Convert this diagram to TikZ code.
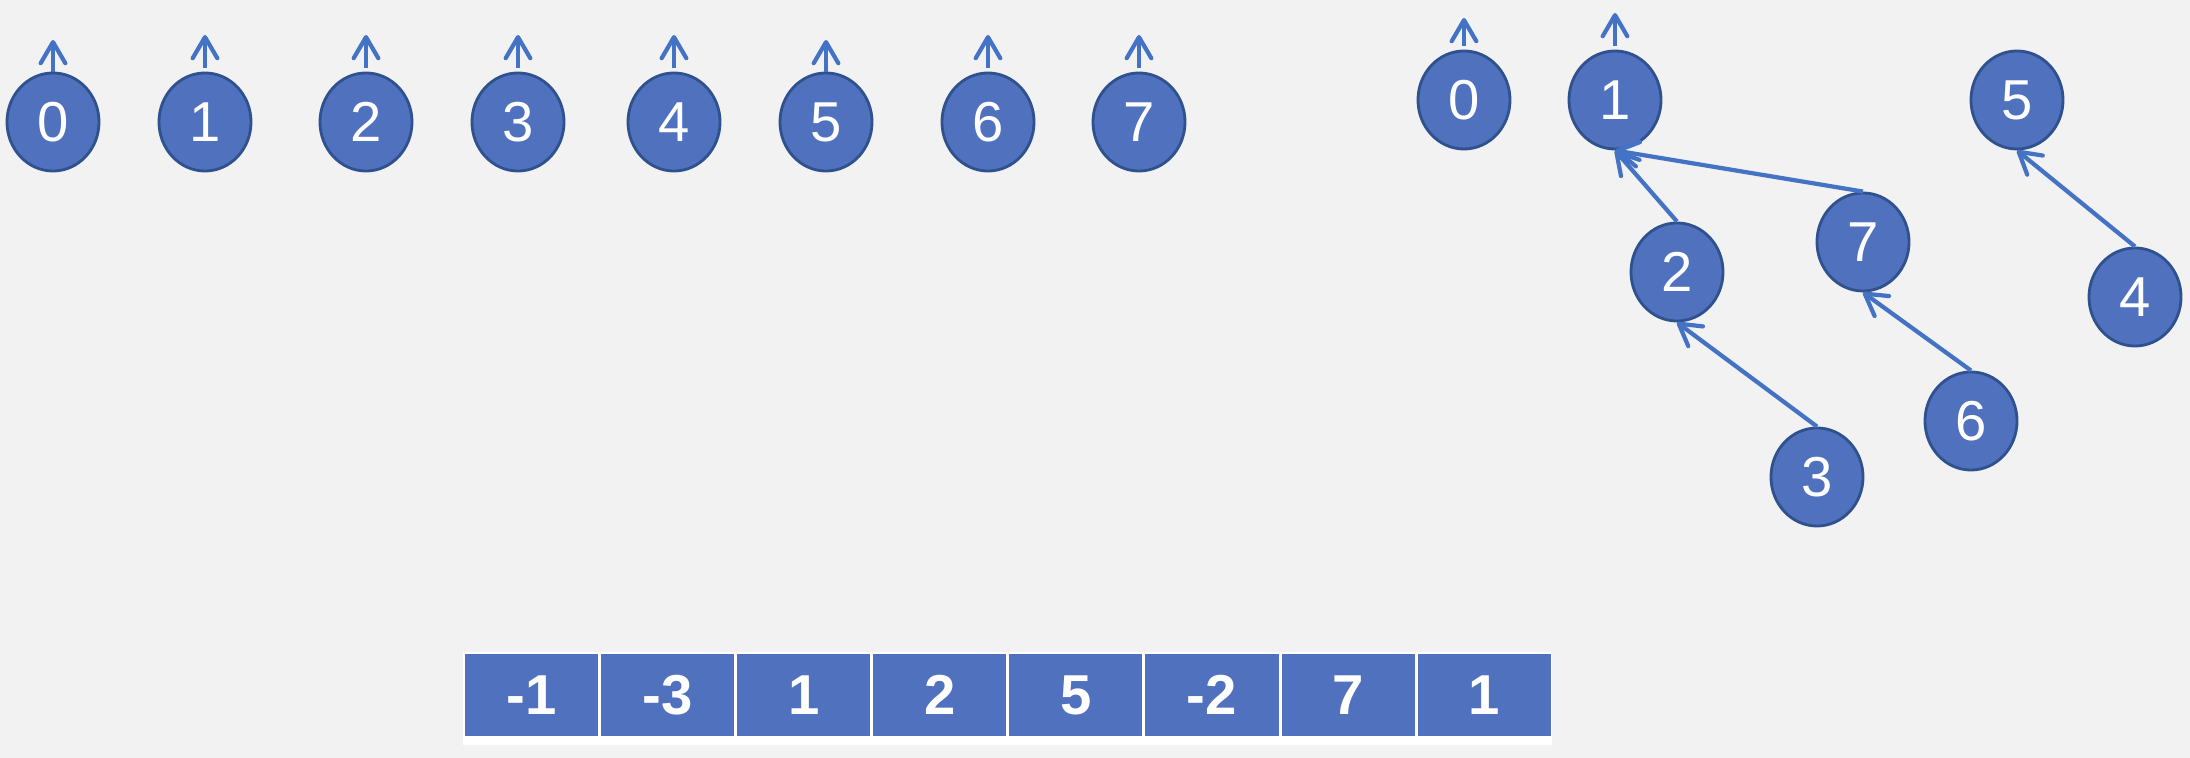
\documentclass[tikz,border=0pt]{standalone}
\usepackage{fontspec}
\setmainfont{Liberation Sans}
\usetikzlibrary{arrows.meta,shapes.geometric}

\definecolor{bgGray}{HTML}{F2F2F2}
\definecolor{nodeBlue}{HTML}{4F71BE}
\definecolor{edgeBlue}{HTML}{2F528F}
\definecolor{linkBlue}{HTML}{4472C4}

\tikzset{
  elem/.style={ellipse, draw=edgeBlue, line width=0.8pt, fill=nodeBlue, text=white,
    minimum width=0.92cm, minimum height=0.98cm, inner sep=0pt,
    font=\fontsize{16}{16}\selectfont},
  link/.style={draw=linkBlue, line width=1.2pt,
    -{Straight Barb[length=6pt,width=7pt,round]}},
  cell/.style={rectangle, fill=nodeBlue, text=white, minimum width=1.33cm,
    minimum height=0.82cm, inner sep=0pt, font=\bfseries\fontsize{16}{16}\selectfont},
}

\begin{document}
\begin{tikzpicture}[x=0.01cm, y=-0.01cm]

% 1. Background
\fill[bgGray] (0,0) rectangle (2190,758);
\useasboundingbox (0,0) rectangle (2190,758);

% 2. Singleton sets
\node[elem] (a0) at (53,122) {0};
\node[elem] (a1) at (205,122) {1};
\node[elem] (a2) at (366,122) {2};
\node[elem] (a3) at (518,122) {3};
\node[elem] (a4) at (674,122) {4};
\node[elem] (a5) at (826,122) {5};
\node[elem] (a6) at (988,122) {6};
\node[elem] (a7) at (1139,122) {7};

% 3. Self pointers of the singletons
\coordinate (p0) at (53,40);
\coordinate (p1) at (205,35);
\coordinate (p2) at (366,35);
\coordinate (p3) at (518,35);
\coordinate (p4) at (674,35);
\coordinate (p5) at (826,40);
\coordinate (p6) at (988,35);
\coordinate (p7) at (1139,35);

\draw[link] (a0.north) -- (p0);
\draw[link, shorten <=1pt] (a1.north) -- (p1);
\draw[link, shorten <=1pt] (a2.north) -- (p2);
\draw[link, shorten <=1pt] (a3.north) -- (p3);
\draw[link, shorten <=1pt] (a4.north) -- (p4);
\draw[link] (a5.north) -- (p5);
\draw[link, shorten <=1pt] (a6.north) -- (p6);
\draw[link, shorten <=1pt] (a7.north) -- (p7);

% 4. Merged trees
\node[elem] (b0) at (1464,100) {0};
\node[elem] (b1) at (1615,100) {1};
\node[elem] (b5) at (2017,100) {5};
\node[elem] (b2) at (1677,272) {2};
\node[elem] (b7) at (1863,242) {7};
\node[elem] (b4) at (2135,297) {4};
\node[elem] (b6) at (1971,421) {6};
\node[elem] (b3) at (1817,477) {3};

% 5. Roots point to themselves
\coordinate (q0) at (1464,18);
\coordinate (q1) at (1615,13);
\draw[link, shorten <=1pt] (b0.north) -- (q0);
\draw[link, shorten <=1pt] (b1.north) -- (q1);

% 6. Child to parent links
\draw[link] (b2.north) -- (b1.south);
\draw[link] (b7.north) -- (b1.south);
\draw[link] (b4.north) -- (b5.south);
\draw[link] (b6.north) -- (b7.south);
\draw[link] (b3.north) -- (b2.south);

% 7. Array of values
\fill[white] (462.5,652) rectangle (1551.5,745);
\node[cell] (c1) at (531.5,695) {-1};
\node[cell] (c2) at (667.6,695) {-3};
\node[cell] (c3) at (803.7,695) {1};
\node[cell] (c4) at (939.8,695) {2};
\node[cell] (c5) at (1075.9,695) {5};
\node[cell] (c6) at (1212.0,695) {-2};
\node[cell] (c7) at (1348.1,695) {7};
\node[cell] (c8) at (1484.2,695) {1};

\end{tikzpicture}
\end{document}
